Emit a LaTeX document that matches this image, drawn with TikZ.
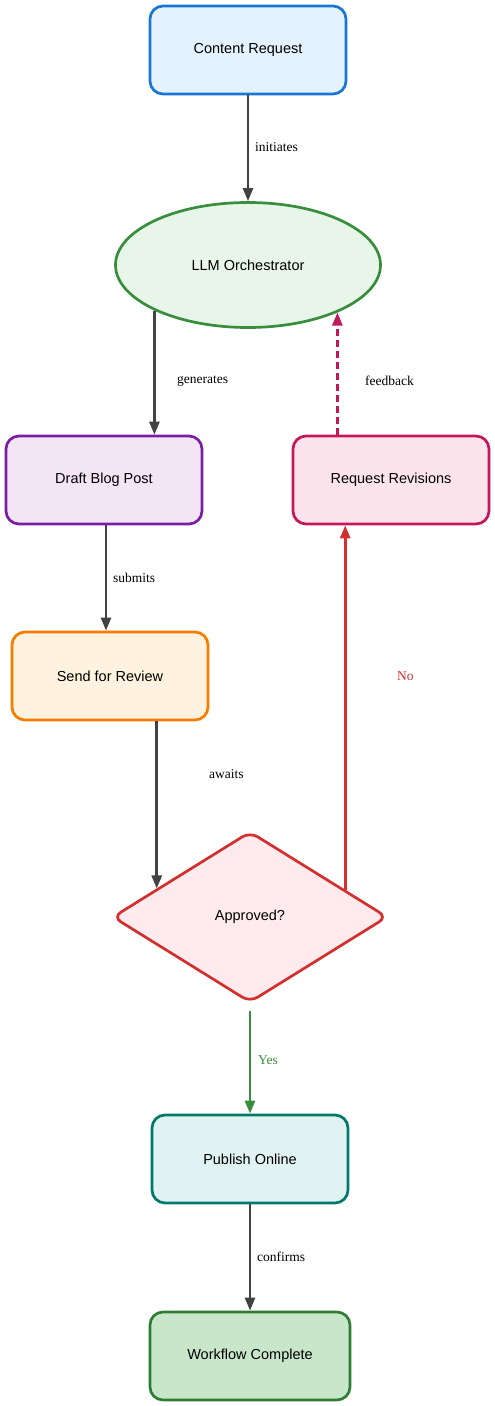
\documentclass[tikz,border=0pt]{standalone}
\usepackage{fontspec}
\setmainfont{Liberation Serif}
\newfontfamily\nodefont{Liberation Sans}
\usetikzlibrary{shapes.geometric,arrows.meta}
\definecolor{edgegray}{HTML}{424242}
\definecolor{crfill}{HTML}{E3F2FD}\definecolor{crline}{HTML}{1976D2}
\definecolor{llmfill}{HTML}{E8F5E9}\definecolor{llmline}{HTML}{388E3C}
\definecolor{dbfill}{HTML}{F3E5F5}\definecolor{dbline}{HTML}{7B1FA2}
\definecolor{rrfill}{HTML}{FCE4EC}\definecolor{rrline}{HTML}{C2185B}
\definecolor{sfill}{HTML}{FFF3E0}\definecolor{sline}{HTML}{F57C00}
\definecolor{apfill}{HTML}{FFEBEE}\definecolor{apline}{HTML}{D32F2F}
\definecolor{pofill}{HTML}{E0F2F1}\definecolor{poline}{HTML}{00796B}
\definecolor{wcfill}{HTML}{C8E6C9}\definecolor{wcline}{HTML}{2E7D32}
\definecolor{yesgreen}{HTML}{388E3C}
\begin{document}
\begin{tikzpicture}[x=1pt,y=-1pt,
  box/.style={draw, rounded corners=13pt, line width=2.7pt, minimum width=196pt, minimum height=88pt, inner sep=0pt, font=\nodefont\fontsize{14.5}{17}\selectfont},
  oval/.style={ellipse, draw, line width=2.7pt, minimum width=265pt, minimum height=125pt, inner sep=0pt, font=\nodefont\fontsize{14.5}{17}\selectfont},
  decision/.style={diamond, draw, rounded corners=9pt, line width=2.7pt, minimum width=275pt, minimum height=171pt, inner sep=0pt, font=\nodefont\fontsize{14.5}{17}\selectfont},
  flow/.style={draw=edgegray, line width=2.6pt, -{Triangle[length=13pt,width=10pt]}},
  lbl/.style={anchor=west, inner sep=0pt, font=\fontsize{13.5}{16}\selectfont}
]
\useasboundingbox (0,0) rectangle (495,1406);

\node[box, fill=crfill, draw=crline] (cr) at (248,50) {Content Request};
\node[oval, fill=llmfill, draw=llmline] (llm) at (248,265) {LLM Orchestrator};
\node[box, fill=dbfill, draw=dbline] (db) at (104,480) {Draft Blog Post};
\node[box, fill=rrfill, draw=rrline] (rr) at (391,480) {Request Revisions};
\node[box, fill=sfill, draw=sline] (sr) at (110,676) {Send for Review};
\node[decision, fill=apfill, draw=apline] (ap) at (250,917) {Approved?};
\node[box, fill=pofill, draw=poline] (po) at (250,1159) {Publish Online};
\node[box, fill=wcfill, draw=wcline, minimum width=200pt] (wc) at (250,1356) {Workflow Complete};

\draw[flow] (cr) -- (llm);
\draw[flow] (llm.206.8) -- (llm.206.8 |- db.north);
\draw[flow, draw=rrline, dashed, dash pattern=on 7pt off 4pt] (llm.332 |- rr.north) -- (llm.332);
\draw[flow] ([xshift=2pt]db.south) -- ([xshift=2pt]db.south |- sr.north);
\draw[flow] (ap.163.4 |- sr.south) -- (ap.163.4);
\draw[flow, draw=apline] (ap.16.6) -- (ap.16.6 |- rr.south);
\draw[flow, draw=yesgreen, shorten <=7pt] (ap.south) -- (po.north);
\draw[flow] (po) -- (wc);

\node[lbl] (l1) at (255,147) {initiates};
\node[lbl] (l2) at (177,381) {generates};
\node[lbl] (l3) at (365,381) {feedback};
\node[lbl] (l4) at (113,578) {submits};
\node[lbl] (l5) at (209,774) {awaits};
\node[lbl, text=apline] (l6) at (397,676) {No};
\node[lbl, text=yesgreen] (l7) at (258,1060) {Yes};
\node[lbl] (l8) at (257,1257) {confirms};
\end{tikzpicture}
\end{document}
